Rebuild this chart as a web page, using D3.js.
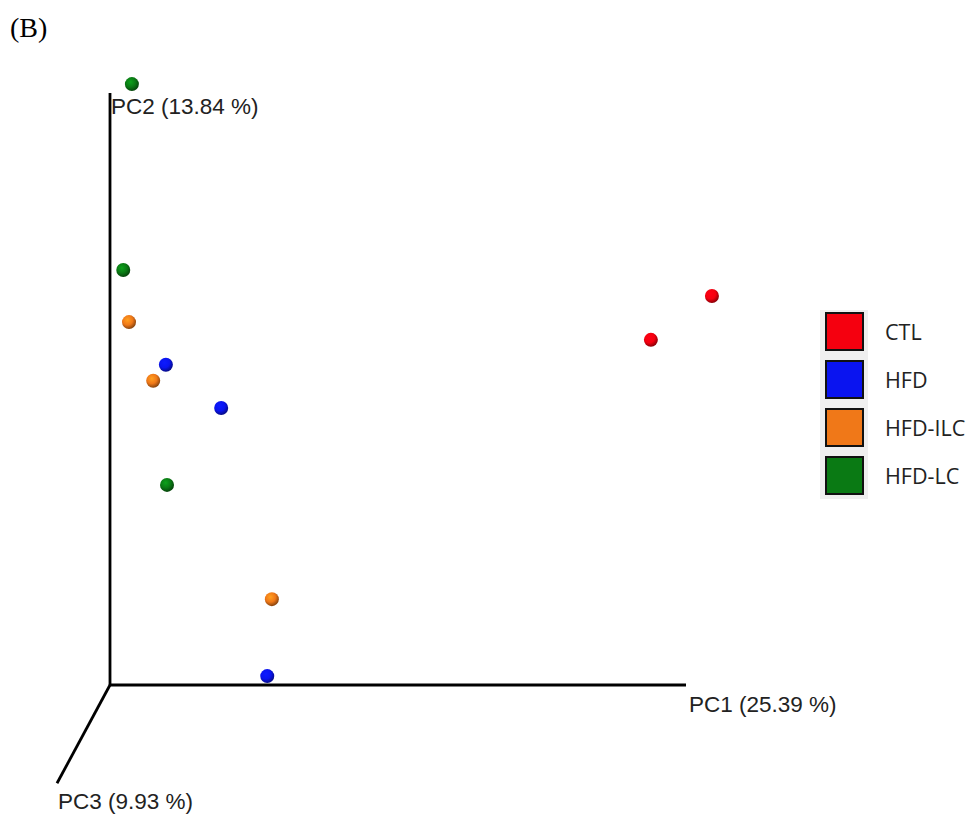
<html>
<head>
<style>
  body { margin: 0; background: #fff; }
  .axisline { stroke: #000; stroke-width: 2.8px; }
  .axislabel { font-family: "Liberation Sans", Arial, sans-serif; font-size: 22.5px; fill: #222; }
  .legendtext { font-family: "Open Sans", "Noto Sans", sans-serif; font-size: 21.5px; fill: #222; }
</style>
</head>
<body>
<svg id="chart" width="976" height="816"></svg>
<script src="https://d3js.org/d3.v7.min.js"></script>
<script>
// groups and colours
const groups = ["CTL", "HFD", "HFD-ILC", "HFD-LC"]
const colors = ["#f5000f", "#0a14f0", "#f07818", "#0a7a14"]

// projected sample positions (PC1 axis = 0..100, PC2 axis = 0..100)
const sampleGroup = ["HFD-LC", "HFD-LC", "HFD-LC", "HFD-ILC", "HFD-ILC", "HFD-ILC", "HFD", "HFD", "HFD", "CTL", "CTL"]
const sampleX = [3.8, 2.3, 9.9, 3.3, 7.5, 28.1, 9.7, 19.3, 27.3, 104.5, 93.9]
const sampleY = [101.5, 70.1, 33.8, 61.3, 51.4, 14.5, 54.1, 46.8, 1.5, 65.7, 58.3]

// axis labels
const axisLabels = ["PC1 (25.39 %)", "PC2 (13.84 %)", "PC3 (9.93 %)"]
// PC3 axis end in the same projected units
const pc3End = [-9.2, -16.6]

let svg = d3.select("#chart")

let xScale = d3.scaleLinear().domain([0, 100]).range([110, 686])
let yScale = d3.scaleLinear().domain([0, 100]).range([685, 93])
let colorScale = d3.scaleOrdinal().domain(groups).range(colors)

svg.append("text")
    .attr("x", 10).attr("y", 37)
    .style("font-family", "'Liberation Serif', 'Times New Roman', serif")
    .style("font-size", "28px")
    .text("(B)")

// axes
svg.append("line").attr("class", "axisline")
    .attr("x1", xScale(0)).attr("y1", yScale(0))
    .attr("x2", xScale(0)).attr("y2", yScale(100))
svg.append("line").attr("class", "axisline")
    .attr("x1", xScale(0)).attr("y1", yScale(0))
    .attr("x2", xScale(100)).attr("y2", yScale(0))
svg.append("line").attr("class", "axisline")
    .attr("x1", xScale(0)).attr("y1", yScale(0))
    .attr("x2", xScale(pc3End[0])).attr("y2", yScale(pc3End[1]))

svg.append("text").attr("class", "axislabel")
    .attr("x", xScale(100) + 3).attr("y", yScale(0) + 27)
    .text(axisLabels[0])
svg.append("text").attr("class", "axislabel")
    .attr("x", xScale(0) + 1).attr("y", yScale(100) + 21)
    .text(axisLabels[1])
svg.append("text").attr("class", "axislabel")
    .attr("x", xScale(pc3End[0]) + 1).attr("y", yScale(pc3End[1]) + 26)
    .text(axisLabels[2])

// sphere gradients
let defs = svg.append("defs")
groups.forEach((g, i) => {
    let grad = defs.append("radialGradient")
        .attr("id", "grad" + i)
        .attr("cx", "40%").attr("cy", "35%").attr("r", "65%")
    grad.append("stop").attr("offset", "0%").attr("stop-color", d3.color(colors[i]).brighter(0.8))
    grad.append("stop").attr("offset", "55%").attr("stop-color", colors[i])
    grad.append("stop").attr("offset", "100%").attr("stop-color", d3.color(colors[i]).darker(1.6))
})

svg.selectAll(".point")
    .data(sampleX.map((x, i) => ({ x: x, y: sampleY[i], g: sampleGroup[i] })))
    .enter()
    .append("circle")
    .attr("class", "point")
    .attr("cx", d => xScale(d.x))
    .attr("cy", d => yScale(d.y))
    .attr("r", 7)
    .attr("fill", d => "url(#grad" + groups.indexOf(d.g) + ")")

// legend
let legend = svg.append("g").attr("transform", "translate(820,310)")
let itemScale = d3.scaleBand().domain(groups).range([0, 192]).paddingInner(0)
legend.append("rect")
    .attr("x", 0).attr("y", 0).attr("width", 48).attr("height", 189)
    .attr("fill", "#efefef")
legend.selectAll(".swatch")
    .data(groups).enter()
    .append("rect")
    .attr("x", 6).attr("y", d => itemScale(d) + 3)
    .attr("width", 37).attr("height", 37)
    .attr("fill", d => colorScale(d))
    .attr("stroke", "#111").attr("stroke-width", 2)
legend.selectAll(".legendtext")
    .data(groups).enter()
    .append("text")
    .attr("class", "legendtext")
    .attr("x", 65).attr("y", d => itemScale(d) + 30)
    .text(d => d)
</script>
</body>
</html>
